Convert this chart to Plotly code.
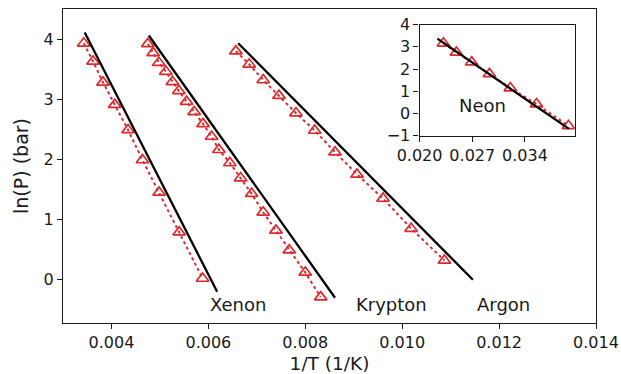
import plotly.graph_objects as go

# ---- data ----
xenon_x = [0.003428, 0.003620, 0.003826, 0.004068, 0.004343, 0.004640, 0.004983, 0.005397, 0.005880]
xenon_y = [3.93, 3.63, 3.28, 2.91, 2.49, 1.99, 1.45, 0.79, 0.02]
xenon_fit_x = [0.003448, 0.006182]
xenon_fit_y = [4.11, -0.20]

krypton_x = [0.004750, 0.004860, 0.004977, 0.005122, 0.005260, 0.005390, 0.005550, 0.005707,
             0.005890, 0.006066, 0.006217, 0.006444, 0.006665, 0.006893, 0.007132, 0.007395,
             0.007669, 0.008000, 0.008318]
krypton_y = [3.92, 3.77, 3.61, 3.46, 3.29, 3.14, 2.96, 2.79, 2.59, 2.38, 2.16, 1.94, 1.69,
             1.43, 1.12, 0.82, 0.49, 0.12, -0.29]
krypton_fit_x = [0.004771, 0.008614]
krypton_fit_y = [4.06, -0.30]

argon_x = [0.006568, 0.006843, 0.007132, 0.007457, 0.007808, 0.008194, 0.008614, 0.009068,
           0.009605, 0.010184, 0.010872]
argon_y = [3.80, 3.58, 3.32, 3.06, 2.77, 2.48, 2.12, 1.75, 1.35, 0.85, 0.32]
argon_fit_x = [0.006616, 0.011459]
argon_fit_y = [3.93, 0.00]

neon_x = [0.02317, 0.02489, 0.02692, 0.02928, 0.03205, 0.03553, 0.03977]
neon_y = [3.16, 2.75, 2.31, 1.78, 1.14, 0.42, -0.56]
neon_fit_x = [0.02237, 0.03985]
neon_fit_y = [3.37, -0.70]

gas_labels = ["Xenon", "Krypton", "Argon"]
gas_label_x = [0.00661, 0.00978, 0.01209]
gas_label_y = [-0.415, -0.415, -0.415]

main_xticks = [0.004, 0.006, 0.008, 0.010, 0.012, 0.014]
main_yticks = [0, 1, 2, 3, 4]
inset_xticks = [0.020, 0.027, 0.034]
inset_yticks = [-1, 0, 1, 2, 3, 4]

RED = "#dc2a2e"
INK = "#1a1a1a"
FONT = "DejaVu Sans"

fig = go.Figure()


def add_gas(x, y, fx, fy, xa, ya):
    fig.add_trace(go.Scatter(x=x, y=y, mode="lines+markers", xaxis=xa, yaxis=ya,
                             line=dict(color=RED, width=2, dash="dot"),
                             marker=dict(symbol="triangle-up-open", size=11, color=RED,
                                         line=dict(width=1.7, color=RED)),
                             showlegend=False, hoverinfo="skip"))
    fig.add_trace(go.Scatter(x=fx, y=fy, mode="lines", xaxis=xa, yaxis=ya,
                             line=dict(color="black", width=2.3),
                             showlegend=False, hoverinfo="skip"))


add_gas(xenon_x, xenon_y, xenon_fit_x, xenon_fit_y, "x", "y")
add_gas(krypton_x, krypton_y, krypton_fit_x, krypton_fit_y, "x", "y")
add_gas(argon_x, argon_y, argon_fit_x, argon_fit_y, "x", "y")
add_gas(neon_x, neon_y, neon_fit_x, neon_fit_y, "x2", "y2")

for name, lx, ly in zip(gas_labels, gas_label_x, gas_label_y):
    fig.add_annotation(x=lx, y=ly, xref="x", yref="y", text=name, showarrow=False,
                       font=dict(family=FONT, size=18, color=INK))
fig.add_annotation(x=0.0283, y=0.36, xref="x2", yref="y2", text="Neon", showarrow=False,
                   font=dict(family=FONT, size=18, color=INK))

axis_common = dict(showgrid=False, zeroline=False, showline=True, linecolor=INK,
                   linewidth=1.3, mirror=True, ticks="outside", ticklen=5, tickwidth=1.2,
                   tickcolor=INK, tickfont=dict(family=FONT, size=16, color=INK),
                   automargin=False)

fig.update_layout(
    width=621, height=374,
    margin=dict(l=63, r=25, t=9, b=51),
    plot_bgcolor="white", paper_bgcolor="white",
    xaxis=dict(domain=[0, 1], range=[0.003, 0.014], tickvals=main_xticks,
               ticktext=[f"{v:.3f}" for v in main_xticks],
               title=dict(text="1/T (1/K)", font=dict(family=FONT, size=18.5, color=INK),
                          standoff=7),
               **axis_common),
    yaxis=dict(domain=[0, 1], range=[-0.72, 4.5], tickvals=main_yticks,
               ticktext=[str(v) for v in main_yticks],
               title=dict(text="ln(P) (bar)", font=dict(family=FONT, size=19, color=INK),
                          standoff=9),
               **axis_common),
    xaxis2=dict(domain=[0.669, 0.960], range=[0.020, 0.0406], anchor="y2",
                tickvals=inset_xticks, ticktext=[f"{v:.3f}" for v in inset_xticks],
                **axis_common),
    yaxis2=dict(domain=[0.597, 0.950], range=[-1, 4], anchor="x2",
                tickvals=inset_yticks,
                ticktext=[("\u2212" + str(-v)) if v < 0 else str(v) for v in inset_yticks],
                **axis_common),
)

fig.write_html("out.html")
